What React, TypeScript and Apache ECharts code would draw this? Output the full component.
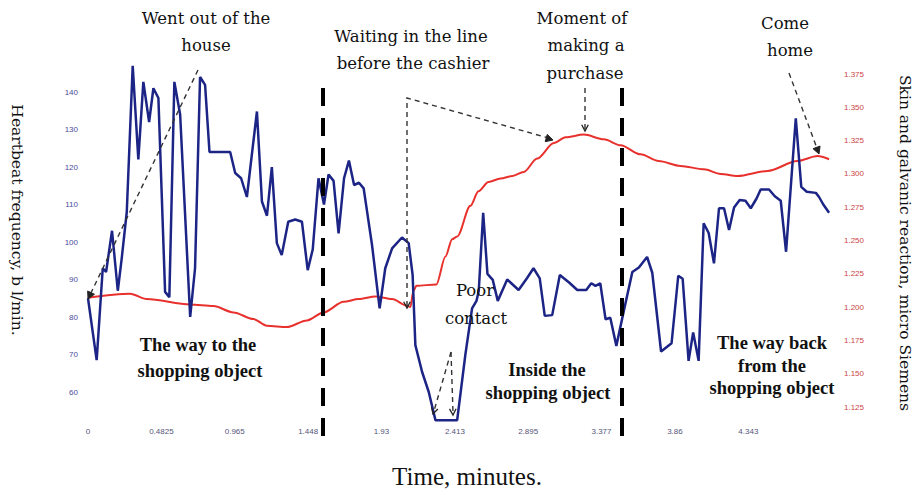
import React, { useEffect, useRef } from "react";
import * as echarts from "echarts";

// ---- data ----
const xTickValues = [0, 0.4825, 0.965, 1.448, 1.93, 2.413, 2.895, 3.377, 3.86, 4.343];
const leftTickValues = [60, 70, 80, 90, 100, 110, 120, 130, 140];
const rightTickValues = [1.125, 1.15, 1.175, 1.2, 1.225, 1.25, 1.275, 1.3, 1.325, 1.35, 1.375];

const heartTime = [
  0, 0.057, 0.097, 0.119, 0.158, 0.196, 0.222, 0.255, 0.294, 0.331,
  0.364, 0.402, 0.43, 0.463, 0.507, 0.535, 0.568, 0.606, 0.672, 0.704,
  0.737, 0.77, 0.799, 0.935, 0.968, 1.007, 1.045, 1.111, 1.144, 1.177,
  1.209, 1.242, 1.274, 1.317, 1.363, 1.407, 1.445, 1.478, 1.516, 1.552,
  1.582, 1.615, 1.648, 1.684, 1.716, 1.75, 1.782, 1.813, 1.868, 1.918,
  1.955, 2.0, 2.065, 2.109, 2.135, 2.153, 2.197, 2.241, 2.285, 2.428,
  2.482, 2.526, 2.555, 2.57, 2.599, 2.627, 2.662, 2.695, 2.757, 2.832,
  2.888, 2.93, 2.971, 3.004, 3.053, 3.103, 3.164, 3.218, 3.277, 3.31,
  3.338, 3.369, 3.404, 3.435, 3.475, 3.519, 3.58, 3.623, 3.677, 3.711,
  3.769, 3.838, 3.882, 3.911, 3.95, 3.98, 4.016, 4.049, 4.082, 4.117,
  4.15, 4.183, 4.216, 4.249, 4.286, 4.324, 4.359, 4.397, 4.424, 4.479,
  4.517, 4.556, 4.591, 4.655, 4.691, 4.727, 4.787, 4.808, 4.836, 4.874,
];
const heartValues = [
  85, 68.5, 93, 92, 103, 87, 95.7, 108, 147, 122,
  142.7, 132, 141, 138.4, 86.7, 85.3, 142.7, 134, 80, 93,
  144, 141.9, 124, 124, 118.4, 117, 112, 134.8, 110.8, 107,
  120, 99.7, 96.5, 105.4, 106, 105.4, 92.5, 98, 117, 110,
  118, 116.3, 102.3, 117, 121.7, 115.2, 115.8, 114.3, 99.2, 82.3,
  93, 98.3, 101.2, 99.7, 91.2, 72.5, 65.4, 60, 52.5, 52.5,
  70, 82.3, 84.3, 87, 107.8, 91.5, 89.9, 84.3, 90, 87.2,
  90.4, 93, 90.3, 80.3, 80.5, 91.2, 89.2, 87.2, 87.2, 89,
  88.3, 89, 79.4, 79.8, 72.3, 80.7, 92, 93.2, 96, 91.8,
  70.8, 73, 91, 90.2, 68.3, 75.9, 68.3, 105, 102.4, 94.3,
  109, 109, 103.2, 109.2, 111.2, 111, 109, 111.6, 114, 114,
  112.2, 111, 97.4, 133, 114.7, 113.4, 113.1, 112, 110, 107.8,
];

const skinTime = [
  0, 0.277, 0.386, 0.672, 0.825, 0.957, 1.088, 1.177, 1.308, 1.44,
  1.549, 1.681, 1.78, 1.89, 2.0, 2.098, 2.12, 2.14, 2.16, 2.291,
  2.351, 2.395, 2.428, 2.515, 2.568, 2.634, 2.713, 2.792, 2.866, 2.954,
  3.064, 3.141, 3.261, 3.393, 3.503, 3.634, 3.753, 3.897, 4.051, 4.161,
  4.271, 4.469, 4.666, 4.798, 4.874,
];
const skinValues = [
  1.207, 1.21, 1.206, 1.202, 1.2008, 1.196, 1.191, 1.186, 1.185, 1.19,
  1.196, 1.204, 1.206, 1.208, 1.206, 1.201, 1.2, 1.212, 1.216, 1.217,
  1.238, 1.251, 1.253, 1.276, 1.287, 1.294, 1.2965, 1.2985, 1.3015, 1.3115,
  1.3232, 1.3275, 1.3295, 1.326, 1.3215, 1.3147, 1.3097, 1.306, 1.3034, 1.3,
  1.2984, 1.3022, 1.3097, 1.3134, 1.311,
];

const SERIF = '"DejaVu Serif", serif';
const TIMES = '"Liberation Serif", serif';
const SANS = '"Liberation Sans", Arial, sans-serif';

function arrowHead(tip: number[], from: number[], size = 7, filled = false) {
  const dx = tip[0] - from[0];
  const dy = tip[1] - from[1];
  const len = Math.sqrt(dx * dx + dy * dy) || 1;
  const ux = dx / len;
  const uy = dy / len;
  const ang = (28 * Math.PI) / 180;
  const c = Math.cos(ang);
  const s = Math.sin(ang);
  const p1 = [tip[0] - size * (ux * c - uy * s), tip[1] - size * (uy * c + ux * s)];
  const p2 = [tip[0] - size * (ux * c + uy * s), tip[1] - size * (uy * c - ux * s)];
  if (filled) {
    return {
      type: "polygon",
      z: 100,
      shape: { points: [p1, tip, p2] },
      style: { fill: "#222", stroke: "#222", lineWidth: 1 },
    };
  }
  return {
    type: "polyline",
    z: 100,
    shape: { points: [p1, tip, p2] },
    style: { stroke: "#222", lineWidth: 1.3, fill: null },
  };
}

function txt(text: string, x: number, y: number, font: string) {
  return {
    type: "text",
    z: 100,
    x,
    y,
    style: { text, font, fill: "#111", align: "center", verticalAlign: "middle" },
  };
}

function dashed(x1: number, y1: number, x2: number, y2: number) {
  return {
    type: "line",
    z: 100,
    shape: { x1, y1, x2, y2 },
    style: { stroke: "#333", lineWidth: 1.4, lineDash: [5, 4] },
  };
}

function thickDash(x: number, y1: number, y2: number) {
  return {
    type: "line",
    z: 100,
    shape: { x1: x, y1, x2: x, y2 },
    style: { stroke: "#000", lineWidth: 4, lineDash: [18, 12] },
  };
}

export default function App() {
  const ref = useRef<HTMLDivElement>(null);

  useEffect(() => {
    if (!ref.current) return;
    const chart = echarts.init(ref.current, undefined, { renderer: "svg" });

    const annFont = `16.5px ${SERIF}`;
    const boldFont = `bold 18.5px ${TIMES}`;

    const graphics: any[] = [
      // phase separators
      thickDash(323, 88, 436),
      thickDash(622, 88, 436),
      // went out of the house
      txt("Went out of the", 206, 18, annFont),
      txt("house", 206, 45, annFont),
      dashed(198, 70, 89, 297),
      arrowHead([88, 299], [198, 70], 8, true),
      // waiting in the line
      txt("Waiting in the line", 411, 36, annFont),
      txt("before the cashier", 413, 63, annFont),
      {
        type: "polyline",
        z: 100,
        shape: { points: [[407, 306], [407, 98], [552, 139]] },
        style: { stroke: "#333", lineWidth: 1.4, lineDash: [5, 4], fill: null },
      },
      arrowHead([407, 308], [407, 98], 7),
      arrowHead([553, 140], [407, 98], 8, true),
      // moment of making a purchase
      txt("Moment of", 582, 18, annFont),
      txt("making a", 586, 45, annFont),
      txt("purchase", 585, 73, annFont),
      dashed(585, 88, 585, 129),
      arrowHead([585, 131], [585, 88], 7),
      // come home
      txt("Come", 785, 23, annFont),
      txt("home", 790, 50, annFont),
      dashed(789, 73, 818, 151),
      arrowHead([819, 154], [789, 73], 8, true),
      // poor contact
      txt("Poor", 475, 290, annFont),
      txt("contact", 476, 318, annFont),
      dashed(451, 352, 434, 411),
      dashed(451, 352, 453, 412),
      arrowHead([433, 414], [451, 352], 7),
      arrowHead([453, 415], [451, 352], 7),
      // phase labels
      txt("The way to the", 198, 345, boldFont),
      txt("shopping object", 200, 371, boldFont),
      txt("Inside the", 547, 370, boldFont),
      txt("shopping object", 548, 393, boldFont),
      txt("The way back", 772, 343, boldFont),
      txt("from the", 772, 366, boldFont),
      txt("shopping object", 772, 388, boldFont),
      // axis titles
      {
        type: "text",
        z: 100,
        x: 17,
        y: 220,
        rotation: -Math.PI / 2,
        style: {
          text: "Heartbeat frequency, b l/min.",
          font: `15.5px ${SERIF}`,
          fill: "#111",
          align: "center",
          verticalAlign: "middle",
        },
      },
      {
        type: "text",
        z: 100,
        x: 905,
        y: 243,
        rotation: -Math.PI / 2,
        style: {
          text: "Skin and galvanic reaction, micro Siemens",
          font: `15.5px ${SERIF}`,
          fill: "#111",
          align: "center",
          verticalAlign: "middle",
        },
      },
      txt("Time, minutes.", 467, 476, `25px ${TIMES}`),
    ];

    const option: any = {
      animation: false,
      backgroundColor: "#fff",
      grid: {
        left: 88,
        right: 86,
        top: 54.5,
        bottom: 62.5,
        containLabel: false,
        outerBoundsMode: "none",
      },
      xAxis: {
        type: "value",
        min: 0,
        max: 4.88,
        axisLine: { show: false },
        axisTick: { show: false },
        splitLine: { show: false },
        axisLabel: {
          customValues: xTickValues,
          formatter: (v: number) => String(Number(v.toFixed(4))),
          color: "#55557a",
          fontSize: 8,
          fontFamily: SANS,
          margin: -2,
        },
      },
      yAxis: [
        {
          type: "value",
          min: 50,
          max: 150,
          axisLine: { show: false },
          axisTick: { show: false },
          splitLine: { show: false },
          axisLabel: {
            customValues: leftTickValues,
            color: "#4a4a9a",
            fontSize: 8,
            fontFamily: SANS,
            margin: 10,
          },
        },
        {
          type: "value",
          min: 1.10811,
          max: 1.38964,
          position: "right",
          axisLine: { show: false },
          axisTick: { show: false },
          splitLine: { show: false },
          axisLabel: {
            customValues: rightTickValues,
            formatter: (v: number) => v.toFixed(3),
            color: "#cc4444",
            fontSize: 8,
            fontFamily: SANS,
            margin: 14,
          },
        },
      ],
      series: [
        {
          type: "line",
          yAxisIndex: 1,
          data: skinTime.map((t, i) => [t, skinValues[i]]),
          showSymbol: false,
          smooth: 0.3,
          smoothMonotone: "x",
          lineStyle: { color: "#e8302c", width: 2 },
          z: 2,
        },
        {
          type: "line",
          yAxisIndex: 0,
          data: heartTime.map((t, i) => [t, heartValues[i]]),
          showSymbol: false,
          lineStyle: { color: "#1c2585", width: 2.5 },
          z: 3,
        },
      ],
      graphic: graphics,
    };

    chart.setOption(option);
    return () => chart.dispose();
  }, []);

  return (
    <div
      ref={ref}
      style={{ position: "fixed", left: 0, top: 0, width: 916, height: 492, background: "#fff" }}
    />
  );
}
